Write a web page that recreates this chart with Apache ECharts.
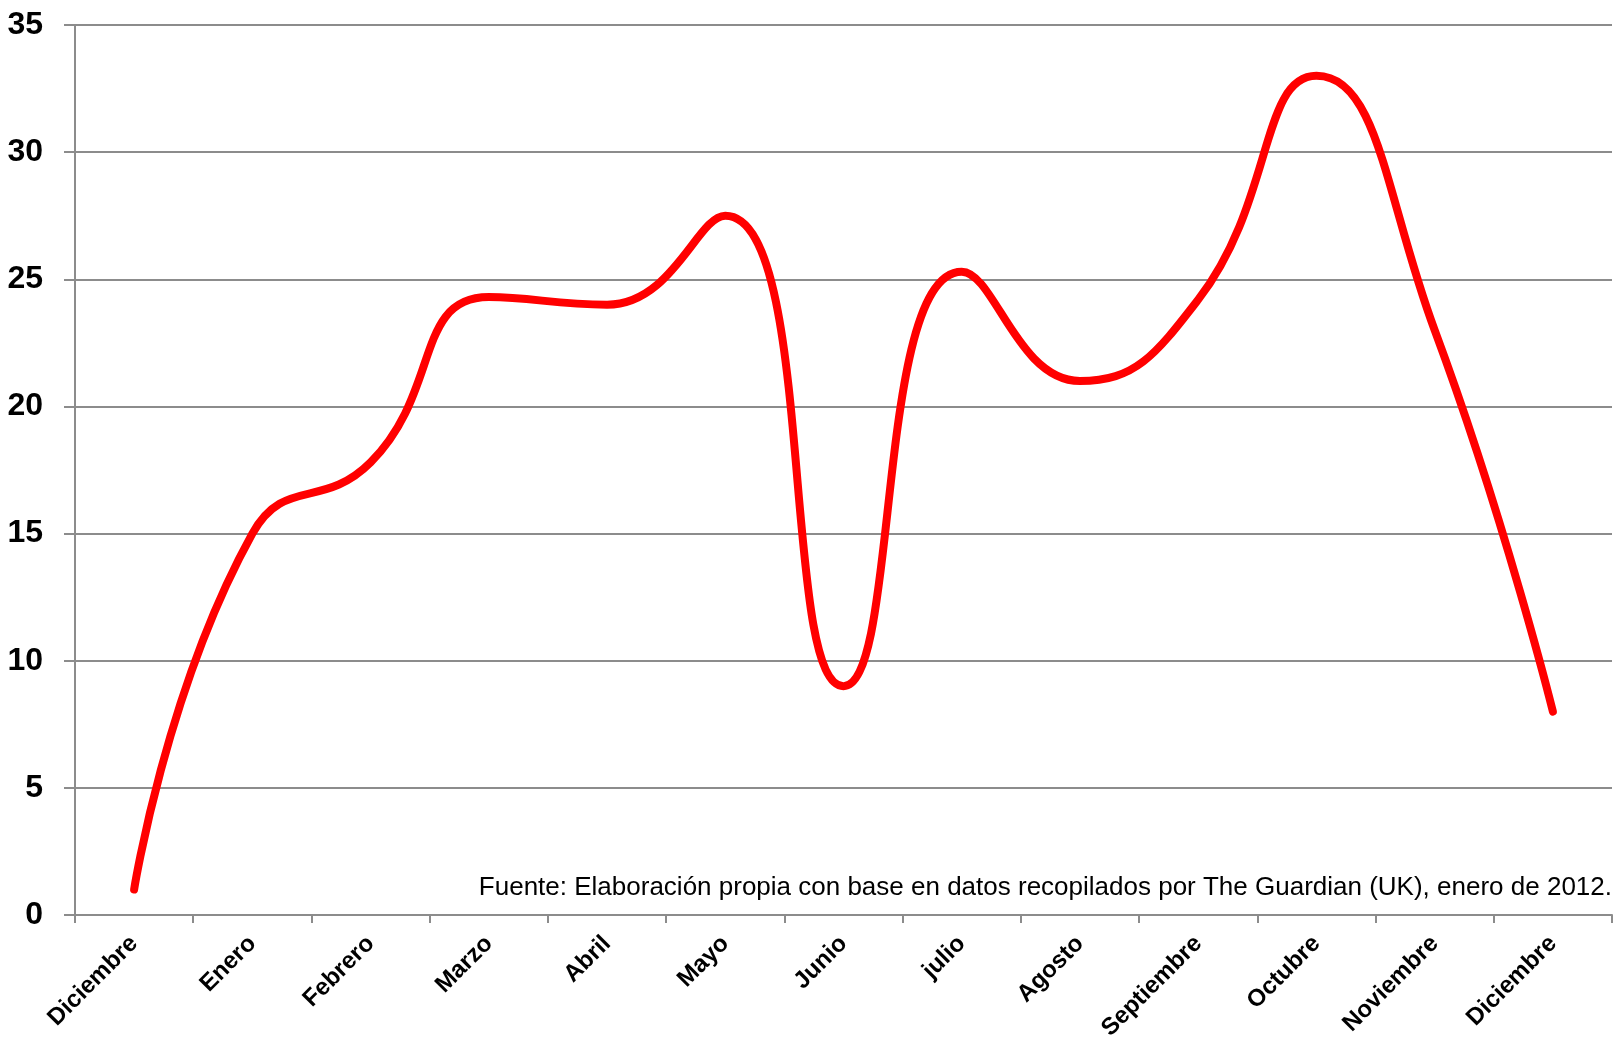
<!DOCTYPE html>
<html>
<head>
<meta charset="utf-8">
<script src="https://cdn.jsdelivr.net/npm/echarts@6/dist/echarts.min.js"></script>
<style>
  html, body { margin: 0; padding: 0; background: #fff; }
  #lineChart { width: 1617px; height: 1039px; }
</style>
</head>
<body>
<div id="lineChart"></div>
<script>
// meses y valores
var meses = ['Diciembre', 'Enero', 'Febrero', 'Marzo', 'Abril', 'Mayo', 'Junio',
  'julio', 'Agosto', 'Septiembre', 'Octubre', 'Noviembre', 'Diciembre'];
var valores = [1, 15, 17.8, 24.3, 24, 27.5, 9, 25.3, 21, 24.2, 33, 23, 8];
var fuente = 'Fuente: Elaboración propia con base en datos recopilados por The Guardian (UK), enero de 2012.';

var fontNarrow = '"Liberation Sans Narrow", "Arial Narrow", "Liberation Sans", Arial, sans-serif';

var chart = echarts.init(document.getElementById('lineChart'));
chart.setOption({
  animation: false,
  grid: {
    left: 75,
    right: 5,
    top: 25,
    bottom: 124,
    containLabel: false,
    outerBoundsMode: 'none'
  },
  xAxis: {
    type: 'category',
    data: meses,
    boundaryGap: true,
    axisLine: { lineStyle: { color: '#8c8c8c', width: 2 } },
    axisTick: { show: true, length: 8, lineStyle: { color: '#8c8c8c', width: 2 } },
    axisLabel: {
      rotate: 45,
      margin: 25,
      interval: 0,
      color: '#000',
      fontWeight: 'bold',
      fontSize: 24,
      fontFamily: fontNarrow
    }
  },
  yAxis: {
    type: 'value',
    min: 0,
    max: 35,
    interval: 5,
    axisLine: { show: true, lineStyle: { color: '#8c8c8c', width: 2 } },
    axisTick: { show: true, length: 11, lineStyle: { color: '#8c8c8c', width: 2 } },
    splitLine: { lineStyle: { color: '#8c8c8c', width: 2 } },
    axisLabel: {
      margin: 32,
      color: '#000',
      fontWeight: 'bold',
      fontSize: 32,
      fontFamily: fontNarrow
    }
  },
  graphic: [{
    type: 'text',
    right: 5,
    top: 875,
    style: {
      text: fuente,
      fill: '#000',
      font: '26px ' + fontNarrow
    }
  }],
  series: [{
    type: 'line',
    data: valores,
    smooth: 0.5,
    symbol: 'none',
    lineStyle: { color: '#ff0000', width: 8, cap: 'round' }
  }]
});
</script>
</body>
</html>
